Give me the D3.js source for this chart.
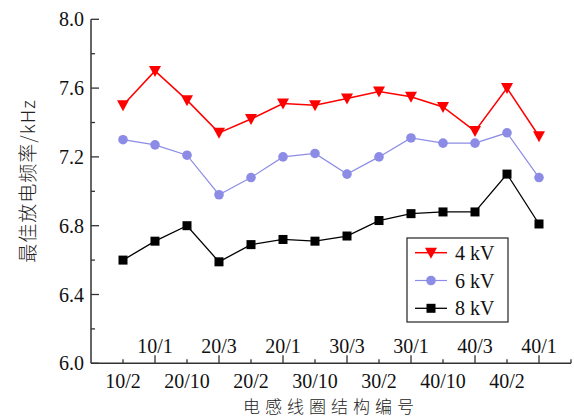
<!DOCTYPE html>
<html><head><meta charset="utf-8">
<script src="https://cdn.jsdelivr.net/npm/d3@7/dist/d3.min.js"></script>
<style>body{margin:0;background:#fff}svg{display:block}</style>
</head><body><svg id="c" width="574" height="418"></svg>
<script>
const categories = ["10/2","10/1","20/10","20/3","20/2","20/1","30/10","30/3","30/2","30/1","40/10","40/3","40/2","40/1"];
const v4kV = [7.50,7.70,7.53,7.34,7.42,7.51,7.50,7.54,7.58,7.55,7.49,7.35,7.60,7.32];
const v6kV = [7.30,7.27,7.21,6.98,7.08,7.20,7.22,7.10,7.20,7.31,7.28,7.28,7.34,7.08];
const v8kV = [6.60,6.71,6.80,6.59,6.69,6.72,6.71,6.74,6.83,6.87,6.88,6.88,7.10,6.81];
const yTicks = [6.0,6.4,6.8,7.2,7.6,8.0];
const seriesNames = ["4 kV","6 kV","8 kV"];
const yTitle = "最佳放电频率/kHz";
const xTitle = "电感线圈结构编号";

const svg = d3.select("#c");
const font = "'Liberation Serif','Times New Roman',serif";
const cjkFont = "'Noto Sans CJK SC','Liberation Serif',serif";
const axisColor = "#333";
const x = d3.scaleLinear().domain([0, categories.length + 1]).range([91, 571]);
const y = d3.scaleLinear().domain([6.0, 8.0]).range([363.3, 19.3]);

const series = [
  {name: seriesNames[0], values: v4kV, color: "#ff0000", sym: "tri", lw: 1.5},
  {name: seriesNames[1], values: v6kV, color: "#8c8ce6", sym: "circle", lw: 1.2},
  {name: seriesNames[2], values: v8kV, color: "#000000", sym: "square", lw: 1.3}
];

function marker(g, sym, cx, cy, color) {
  if (sym === "tri") {
    g.append("path").attr("d", `M${cx-6},${cy-5}L${cx+6},${cy-5}L${cx},${cy+6}Z`).attr("fill", color);
  } else if (sym === "circle") {
    g.append("circle").attr("cx", cx).attr("cy", cy).attr("r", 4.8).attr("fill", color);
  } else {
    g.append("rect").attr("x", cx-4.5).attr("y", cy-4.5).attr("width", 9).attr("height", 9).attr("fill", color);
  }
}

// Axes lines
svg.append("line").attr("x1", x(0)).attr("x2", x(0)).attr("y1", y(8.0)).attr("y2", y(6.0))
  .attr("stroke", axisColor).attr("stroke-width", 1.5);
svg.append("line").attr("x1", x(0)).attr("x2", x(categories.length + 1)).attr("y1", y(6.0)).attr("y2", y(6.0))
  .attr("stroke", axisColor).attr("stroke-width", 1.5);

// Y ticks (inward)
const yMinor = d3.range(6.2, 8.0, 0.4);
yTicks.forEach(t => {
  svg.append("line").attr("x1", x(0)).attr("x2", x(0) + 8).attr("y1", y(t)).attr("y2", y(t)).attr("stroke", axisColor).attr("stroke-width", 1.3);
  svg.append("text").attr("x", x(0) - 7).attr("y", y(t)).attr("dy", "0.35em").attr("text-anchor", "end")
    .attr("font-family", font).attr("font-size", 20).attr("fill", "#111").text(t.toFixed(1));
});
yMinor.forEach(t => {
  svg.append("line").attr("x1", x(0)).attr("x2", x(0) + 4).attr("y1", y(t)).attr("y2", y(t)).attr("stroke", axisColor).attr("stroke-width", 1.3);
});

// X ticks (inward) and labels
d3.range(1, categories.length + 2).forEach(i => {
  const major = i % 2 === 0;
  svg.append("line").attr("x1", x(i)).attr("x2", x(i)).attr("y1", y(6.0)).attr("y2", y(6.0) - (major ? 8 : 4))
    .attr("stroke", axisColor).attr("stroke-width", 1.3);
});
categories.forEach((c, i) => {
  const pos = i + 1;
  const top = pos % 2 === 0;
  svg.append("text").attr("x", x(pos)).attr("y", top ? 345.5 : 381).attr("dy", "0.35em").attr("text-anchor", "middle")
    .attr("font-family", font).attr("font-size", 20).attr("fill", "#111").text(c);
});

// Titles
svg.append("text").attr("transform", `translate(28,181) rotate(-90)`).attr("text-anchor", "middle").attr("dy", "0.35em")
  .attr("font-family", cjkFont).attr("font-size", 19).attr("font-weight", 300).attr("letter-spacing", 1)
  .attr("fill", "#222").text(yTitle);
svg.append("text").attr("x", 331).attr("y", 407.5).attr("text-anchor", "middle").attr("dy", "0.35em")
  .attr("font-family", cjkFont).attr("font-size", 17).attr("font-weight", 300).attr("letter-spacing", 5)
  .attr("fill", "#222").text(xTitle);

// Series
const line = d3.line().x((d, i) => x(i + 1)).y(d => y(d));
series.forEach(s => {
  svg.append("path").attr("d", line(s.values)).attr("fill", "none").attr("stroke", s.color).attr("stroke-width", s.lw);
  const g = svg.append("g");
  s.values.forEach((v, i) => marker(g, s.sym, x(i + 1), y(v), s.color));
});

// Legend
const lg = svg.append("g");
lg.append("rect").attr("x", 407).attr("y", 238).attr("width", 101).attr("height", 84)
  .attr("fill", "#fff").attr("stroke", "#222").attr("stroke-width", 1.2);
series.forEach((s, i) => {
  const ly = 252.7 + i * 27.8;
  lg.append("line").attr("x1", 415).attr("x2", 447).attr("y1", ly).attr("y2", ly).attr("stroke", s.color).attr("stroke-width", s.lw);
  marker(lg, s.sym, 431, ly, s.color);
  lg.append("text").attr("x", 455).attr("y", ly).attr("dy", "0.35em").attr("font-family", font).attr("font-size", 20)
    .attr("fill", "#111").text(s.name);
});
</script></body></html>
